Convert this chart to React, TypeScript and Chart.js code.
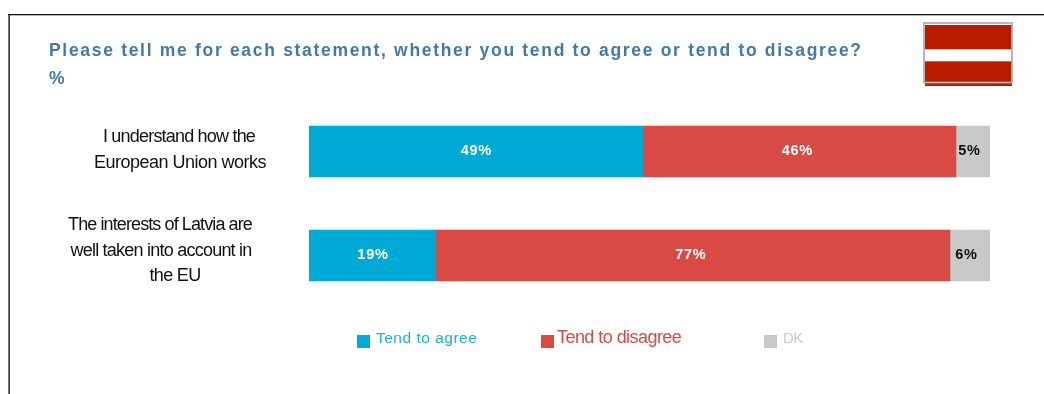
import React, { useEffect, useRef } from "react";
import { Chart, registerables } from "chart.js";

Chart.register(...registerables);

const titleLines = [
  "Please tell me for each statement, whether you tend to agree or tend to disagree?",
  "%",
];
const categories = ["I understand how the European Union works", "The interests of Latvia are well taken into account in the EU"];
const categoryLines = [
  ["I understand how the", "European Union works"],
  ["The interests of Latvia are", "well taken into account in", "the EU"],
];
const seriesNames = ["Tend to agree", "Tend to disagree", "DK"];
const agree = [49, 19];
const disagree = [46, 77];
const dontKnow = [5, 6];

const BLUE = "#00a9d6";
const RED = "#da4a44";
const GREY = "#c9c9c9";

const seriesValues = [agree, disagree, dontKnow];
const rowTotals = categories.map((_, i) => agree[i] + disagree[i] + dontKnow[i]);
// Each row fills the full width: rounded percentages may add up to more than 100.
const shareOf = (values: number[]) => values.map((v, i) => (v / rowTotals[i]) * 100);

function text(ctx: CanvasRenderingContext2D, s: string, x: number, y: number, font: string, color: string, spacing: number, align: CanvasTextAlign = "left") {
  ctx.font = font;
  ctx.fillStyle = color;
  (ctx as any).letterSpacing = `${spacing}px`;
  ctx.textAlign = align;
  ctx.textBaseline = "middle";
  ctx.fillText(s, x, y);
  (ctx as any).letterSpacing = "0px";
}

const pageDecor = {
  id: "pageDecor",
  beforeDraw(chart: any) {
    const ctx: CanvasRenderingContext2D = chart.ctx;
    ctx.save();
    ctx.fillStyle = "#ffffff";
    ctx.fillRect(0, 0, chart.width, chart.height);

    // Frame along the top and left edges
    ctx.fillStyle = "#111111";
    ctx.fillRect(8.4, 14, chart.width - 8, 1.3);
    ctx.fillRect(8.4, 14, 1.4, chart.height - 14);

    // Latvian flag
    ctx.fillStyle = "#b81c00";
    ctx.fillRect(925, 25, 87, 61);
    ctx.fillStyle = "#ffffff";
    ctx.fillRect(925, 49.3, 87, 12);
    ctx.strokeStyle = "#b0b0b0";
    ctx.lineWidth = 1.8;
    ctx.strokeRect(924, 23, 88, 59.5);

    // Title
    const titleFont = "bold 17.5px 'Liberation Sans'";
    text(ctx, titleLines[0], 49, 51, titleFont, "#4179ab", 1.69);
    text(ctx, titleLines[1], 49, 79, titleFont, "#4179ab", 0);
    ctx.restore();
  },
  afterDatasetsDraw(chart: any) {
    const ctx: CanvasRenderingContext2D = chart.ctx;
    const yScale = chart.scales.y;
    ctx.save();

    // Statement labels beside each bar
    const labelCenters = [[179, 180], [160, 161, 175]];
    const labelSpacing = [[-0.8, -0.5], [-0.9, -0.77, -0.67]];
    const lineGap = [26, 25.5];
    const blockShift = [-1.5, -4.5];
    categoryLines.forEach((lines, i) => {
      const mid = yScale.getPixelForValue(i) + blockShift[i];
      lines.forEach((line, j) => {
        const y = mid + (j - (lines.length - 1) / 2) * lineGap[i];
        text(ctx, line, labelCenters[i][j], y, "18px 'Liberation Sans'", "#111111", labelSpacing[i][j], "center");
      });
    });

    // Percentages inside the segments
    const labelShift = [0, -2.5, -4];
    chart.data.datasets.forEach((ds: any, d: number) => {
      chart.getDatasetMeta(d).data.forEach((bar: any, i: number) => {
        const cx = (bar.base + bar.x) / 2 + labelShift[d];
        text(ctx, `${seriesValues[d][i]}%`, cx + 0.5, bar.y - 0.5, "bold 14.5px 'Liberation Sans'", d === 2 ? "#111111" : "#ffffff", 0.7, "center");
      });
    });

    // Legend row
    const legend = [
      { box: 357, tx: 376, font: "15.5px 'Liberation Sans'", color: "#1fb1dc", sp: 0.5, ty: 339 },
      { box: 541, tx: 557, font: "18px 'Liberation Sans'", color: RED, sp: -0.55, ty: 338 },
      { box: 764, tx: 783, font: "15px 'Liberation Sans'", color: "#cbcbcb", sp: -0.7, ty: 339 },
    ];
    legend.forEach((l, i) => {
      ctx.fillStyle = [BLUE, RED, GREY][i];
      ctx.fillRect(l.box, 335, 13, 13);
      text(ctx, seriesNames[i], l.tx, l.ty, l.font, l.color, l.sp);
    });
    ctx.restore();
  },
};

export default function App() {
  const ref = useRef<HTMLCanvasElement>(null);
  useEffect(() => {
    const chart = new Chart(ref.current!, {
      type: "bar",
      data: {
        labels: categories,
        datasets: seriesNames.map((label, i) => ({
          label,
          data: shareOf(seriesValues[i]),
          backgroundColor: [BLUE, RED, GREY][i],
          borderWidth: 0,
          barThickness: 51,
        })),
      },
      options: {
        indexAxis: "y",
        responsive: false,
        animation: false,
        layout: { padding: { left: 309, right: 54, top: 99.5, bottom: 86.5 } },
        scales: {
          x: { stacked: true, min: 0, max: 100, display: false },
          y: { stacked: true, display: false },
        },
        plugins: { legend: { display: false }, title: { display: false }, tooltip: { enabled: false } },
      },
      plugins: [pageDecor],
    } as any);
    return () => chart.destroy();
  }, []);
  return (
    <div style={{ position: "fixed", left: 0, top: 0, width: 1044, height: 394 }}>
      <canvas ref={ref} width={1044} height={394} style={{ display: "block" }} />
    </div>
  );
}
